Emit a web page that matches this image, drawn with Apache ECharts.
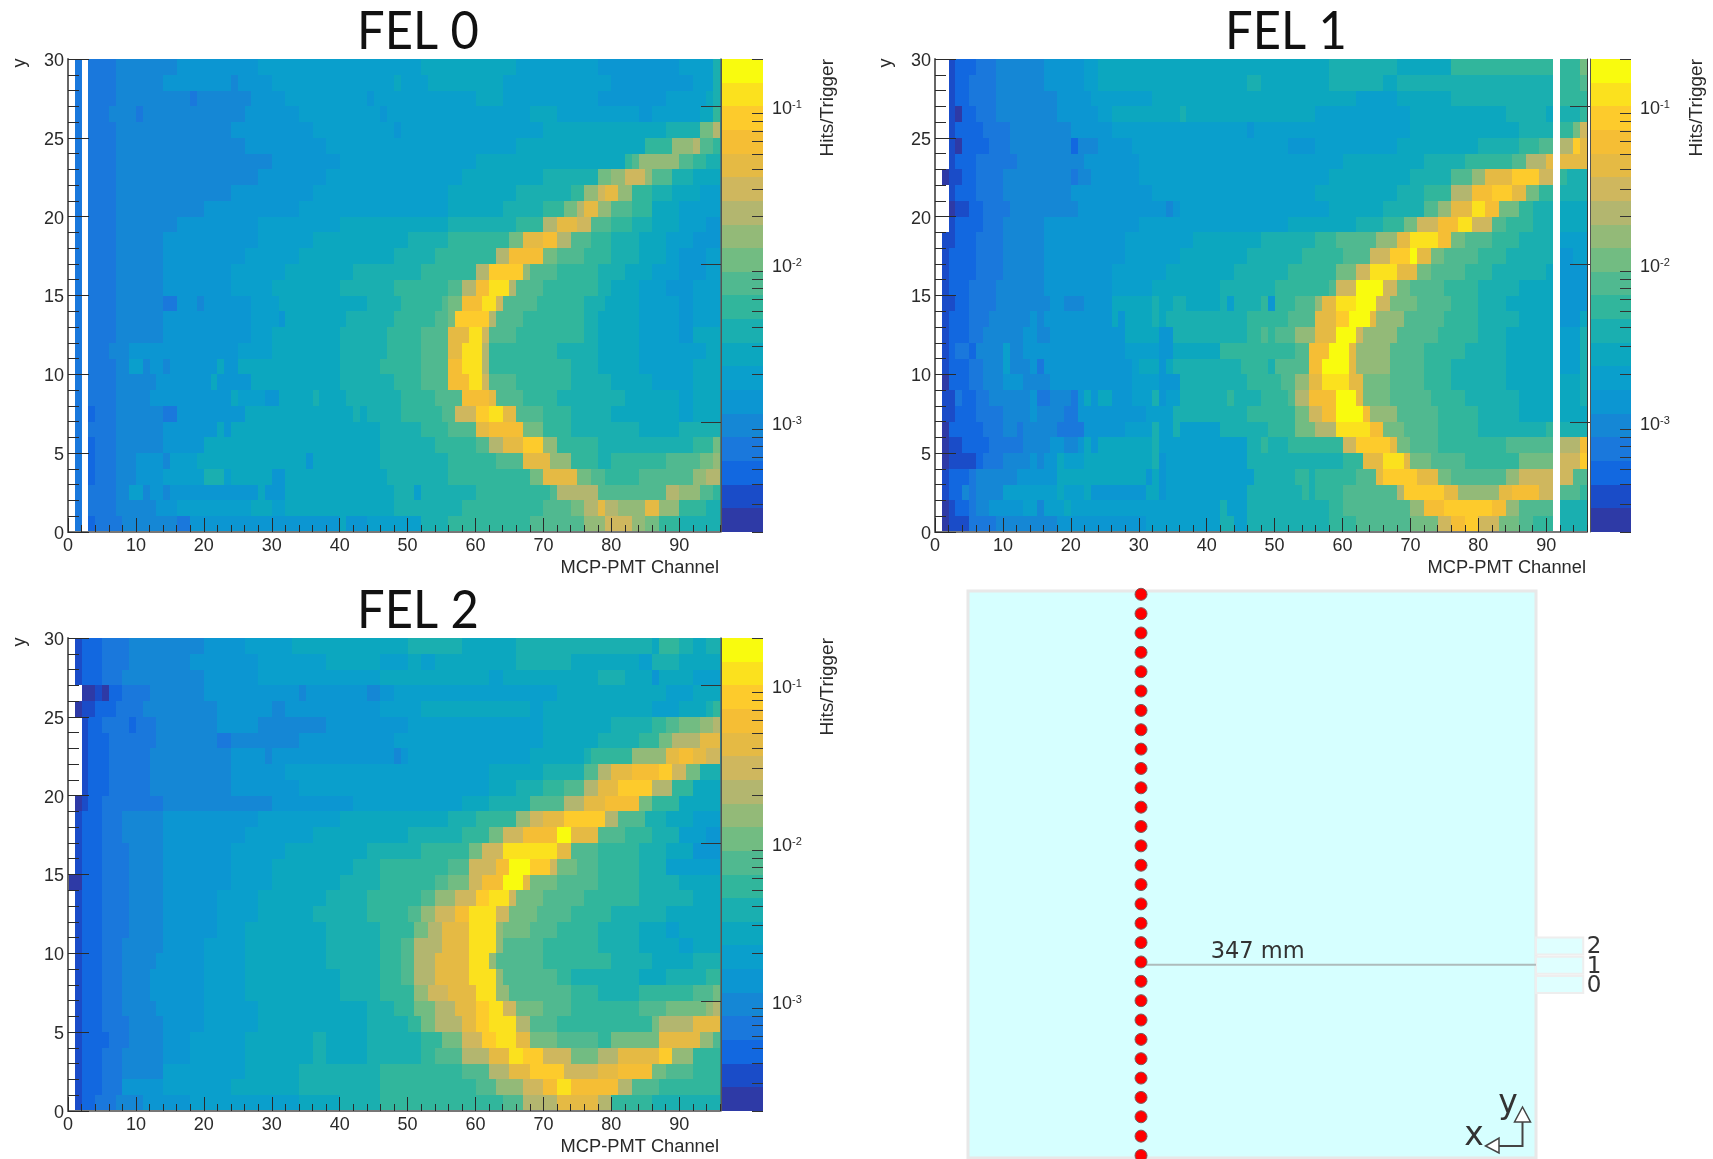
<!DOCTYPE html>
<html><head><meta charset="utf-8">
<style>html,body{margin:0;padding:0;background:#fff}#main{width:1713px;height:1159px;filter:blur(0.6px)}</style>
<script src="https://cdn.jsdelivr.net/npm/echarts@6/dist/echarts.min.js"></script>
</head><body><div id="main"></div>
<script>
// Colour bands of the z scale, bottom to top (20 equal log bands from 2e-4 to 0.2)
const bandColors = ['#2E3AA6','#1A4CC8','#1268E0','#1A78DC','#1587D5','#0C96D2','#0A9FCC','#0CA7BF','#1AAFB0','#31B69C','#50B990','#72BC82','#93BA78','#B3B66F','#CFB75E','#E5BA44','#F5BE35','#FDCB2C','#FBE11E','#F9FB0E'];
const zMin = 2e-4, zMax = 0.2;
const xTickLabels = [0,10,20,30,40,50,60,70,80,90];
const zMajorTicks = [1e-3,1e-2,1e-1];
const zMinorTicks = [2e-4,3e-4,4e-4,5e-4,6e-4,7e-4,8e-4,9e-4,2e-3,3e-3,4e-3,5e-3,6e-3,7e-3,8e-3,9e-3,2e-2,3e-2,4e-2,5e-2,6e-2,7e-2,8e-2,9e-2,0.2];
// Each row is y = 29 ... 0; token "band:endChannel", "-" = empty bin
const fel0Rows = [
"-:1 3:2 -:3 3:7 4:16 5:28 6:52 7:66 6:78 5:90 6:95 8:96",
"-:1 3:2 -:3 3:7 4:14 5:24 4:25 5:30 6:48 7:49 6:53 7:64 6:80 5:92 6:95 8:96",
"-:1 3:2 -:3 3:7 4:18 3:19 4:27 5:32 6:44 5:45 6:60 7:64 6:78 5:88 6:94 7:95 8:96",
"-:1 3:2 -:3 3:6 4:10 3:11 4:26 5:34 6:46 5:47 6:68 7:72 6:84 5:86 6:93 7:95 9:96",
"-:1 3:2 -:3 3:7 4:24 5:36 6:48 5:49 6:70 7:88 8:93 11:95 13:96",
"-:1 3:2 -:3 3:7 4:26 5:38 6:66 7:85 9:89 12:92 13:93 10:95 9:96",
"-:1 3:2 -:3 3:7 4:30 5:40 6:60 7:82 9:83 10:84 12:90 10:92 9:94 8:96",
"-:1 3:2 -:3 3:7 4:28 5:38 6:58 7:70 8:78 11:80 12:82 14:85 12:86 10:89 8:92 7:96",
"-:1 3:2 -:3 3:7 4:24 5:36 6:56 7:66 8:74 9:76 12:78 14:79 15:81 12:83 9:86 8:89 7:93 6:96",
"-:1 3:2 -:3 3:7 4:20 5:34 6:56 7:64 8:70 9:73 11:75 13:76 15:78 12:80 10:83 9:86 7:90 6:96",
"-:1 3:2 -:3 3:7 4:16 5:28 6:40 7:56 8:66 9:70 13:72 15:75 14:77 10:80 9:83 8:86 7:90 6:94 5:96",
"-:1 3:2 -:3 3:7 4:14 5:28 6:36 7:50 8:56 9:65 11:67 15:70 16:72 13:74 10:77 9:80 8:84 7:88 6:92 5:96",
"-:1 3:2 -:3 3:7 4:14 5:26 6:34 7:48 8:54 9:63 13:65 16:70 11:72 10:76 9:80 8:84 7:88 6:90 5:94 6:96",
"-:1 3:2 -:3 3:7 4:14 5:24 6:32 7:42 8:52 9:60 13:62 17:67 12:68 10:72 9:78 8:82 7:86 6:90 5:94 6:96",
"-:1 3:2 -:3 3:7 4:14 5:24 6:30 7:40 8:48 9:56 10:58 13:60 16:62 18:65 13:66 10:70 9:78 8:80 7:84 6:88 5:92 6:96",
"-:1 3:2 -:3 3:7 4:14 3:16 5:19 4:20 5:27 6:31 7:44 8:49 9:55 10:56 11:58 16:61 18:63 14:64 10:69 9:76 8:79 7:84 6:90 5:92 6:96",
"-:1 3:2 -:3 3:7 4:14 5:27 6:31 5:32 7:41 8:48 9:54 10:56 11:57 17:62 13:63 10:67 9:76 8:78 7:84 6:90 5:92 6:96",
"-:1 3:2 -:3 3:7 4:14 5:27 6:30 7:40 8:47 9:52 10:56 15:59 18:61 14:62 10:66 9:76 8:78 7:84 6:90 5:92 7:96",
"-:1 3:2 -:3 3:6 4:9 5:25 6:30 7:40 8:47 9:52 10:56 15:58 18:61 13:62 9:72 8:78 7:84 6:94 7:96",
"-:1 3:2 -:3 3:7 4:9 6:11 4:12 5:14 4:15 5:22 7:23 5:25 7:40 8:46 9:52 10:56 16:58 18:61 13:62 9:74 8:78 7:84 6:92 7:96",
"-:1 3:2 -:3 3:7 4:13 5:21 7:22 5:27 7:40 8:48 9:52 10:56 16:59 18:61 14:62 10:66 9:74 8:80 7:86 6:92 7:96",
"-:1 3:2 -:3 3:7 4:12 5:24 7:25 6:29 5:31 7:36 8:37 7:41 8:49 9:54 10:58 16:62 15:63 10:67 9:72 8:82 7:90 6:92 7:96",
"-:1 3:2 -:3 2:4 3:7 4:14 3:16 5:26 7:42 8:43 7:44 8:49 9:55 10:57 14:60 17:62 18:64 15:66 10:70 9:74 8:80 7:90 6:92 7:96",
"-:1 3:2 -:3 3:7 4:14 5:22 7:23 5:24 7:46 8:52 9:56 10:60 15:62 16:67 11:70 9:74 8:84 7:90 8:96",
"-:1 3:2 -:3 2:4 3:7 4:14 5:20 7:46 8:54 9:60 10:62 13:64 15:67 17:70 12:72 9:78 8:92 9:95 11:96",
"-:1 3:2 -:3 2:4 3:7 4:10 5:14 4:15 6:19 7:35 5:36 7:46 8:56 9:63 10:67 15:71 12:74 9:78 8:80 9:88 10:93 11:95 12:96",
"-:1 3:2 -:3 2:4 3:7 4:10 5:14 6:20 8:23 6:24 7:30 5:32 7:47 8:56 9:68 11:70 15:75 11:77 10:79 9:84 10:92 12:94 13:96",
"-:1 3:2 -:3 3:7 4:9 6:11 4:12 5:14 4:15 5:28 7:29 5:32 7:48 8:51 6:52 8:60 9:71 10:72 13:78 10:88 13:90 12:93 10:95 9:96",
"-:1 3:2 -:3 3:7 4:13 5:16 6:27 7:30 6:32 7:48 8:58 9:70 10:74 11:76 13:78 15:79 13:81 12:85 15:87 12:90 9:94 8:96",
"-:1 3:2 -:3 2:4 3:8 4:16 3:18 5:40 7:41 5:44 6:52 8:56 9:68 10:76 12:79 14:83 12:85 11:87 9:90 8:96"
];
const fel1Rows = [
"-:2 1:3 2:6 3:9 4:16 5:22 6:24 7:58 8:68 7:76 9:91 -:92 9:95 11:96",
"-:2 1:3 2:5 3:9 4:16 5:22 6:24 7:46 8:48 7:58 8:66 7:68 8:91 -:92 9:95 10:96",
"-:2 1:3 2:5 3:9 4:18 5:23 6:32 7:62 6:68 7:76 8:91 -:92 9:96",
"-:2 1:3 0:4 2:6 3:9 4:18 5:24 6:26 7:36 8:37 7:56 6:70 7:84 8:90 7:91 -:92 8:95 9:96",
"-:2 1:3 2:7 3:11 4:20 5:26 6:46 5:47 6:70 7:86 8:91 -:92 9:94 11:95 14:96",
"-:2 1:3 0:4 2:8 3:11 4:20 2:21 4:24 5:29 6:52 5:56 6:68 7:80 8:86 9:89 10:91 -:92 13:94 17:95 15:96",
"-:2 1:3 2:6 3:12 4:22 5:30 6:60 7:72 8:78 9:85 10:87 13:90 15:91 -:92 15:96",
"-:1 0:2 1:4 2:6 3:10 4:20 3:21 4:23 5:30 6:58 7:70 8:76 10:79 12:81 15:85 17:89 14:91 -:92 9:93 8:96",
"-:2 1:3 2:6 3:10 4:20 5:32 6:56 7:68 8:72 9:76 13:79 16:82 17:85 15:87 11:89 9:91 -:92 8:96",
"-:2 0:3 1:5 2:7 3:11 4:21 5:34 4:35 5:36 6:58 7:66 8:72 10:74 12:76 15:79 18:81 16:83 11:86 9:88 8:91 -:92 7:96",
"-:2 1:3 2:7 3:10 4:16 5:30 6:52 7:62 8:66 9:69 11:71 14:74 16:77 18:79 14:82 10:84 9:88 8:91 -:92 7:96",
"-:1 1:3 2:6 3:10 4:16 5:28 6:38 7:48 8:56 9:59 10:65 12:68 15:70 18:74 16:76 11:78 10:82 9:86 8:91 -:92 6:96",
"-:1 1:2 2:6 3:10 4:16 5:28 6:36 7:46 8:54 9:60 10:64 14:67 17:70 19:71 15:73 11:75 10:80 9:84 8:91 -:92 5:94 6:96",
"-:1 1:2 2:6 3:10 4:16 5:26 6:34 7:44 8:52 9:59 11:62 14:64 18:68 15:71 11:73 10:78 9:82 8:90 7:91 -:92 5:96",
"-:1 1:2 2:5 3:9 4:16 5:26 6:32 7:42 8:50 9:58 10:59 14:62 19:66 14:68 11:70 10:75 9:80 8:86 7:91 -:92 5:96",
"-:1 1:3 2:5 3:9 4:17 5:19 4:22 5:26 7:32 8:33 7:35 8:37 7:42 8:43 6:44 8:48 9:49 5:50 9:53 10:56 12:57 15:59 18:62 19:65 14:67 11:71 10:76 9:80 8:84 7:91 -:92 5:96",
"-:1 1:2 2:5 3:8 4:14 5:15 4:16 5:26 7:27 5:28 7:32 8:33 7:34 8:46 9:52 10:56 15:59 17:61 19:64 15:65 12:69 10:75 9:80 8:86 7:91 -:92 5:95 7:96",
"-:1 1:2 2:5 3:7 4:13 5:15 4:17 5:28 7:33 5:35 8:46 9:48 10:49 9:50 10:53 12:56 15:59 19:62 14:63 12:68 10:74 9:80 8:84 7:91 -:92 6:95 8:96",
"-:1 1:2 2:3 3:5 2:6 4:10 6:11 4:13 5:28 6:33 5:35 7:42 9:53 10:55 16:58 19:61 15:62 12:67 10:72 9:78 8:84 7:91 -:92 6:95 8:96",
"-:1 1:2 2:5 3:7 4:10 6:11 4:14 5:15 3:16 5:29 6:30 7:33 5:34 7:35 8:45 9:49 8:50 10:55 16:57 19:61 15:62 12:67 10:72 9:76 8:84 7:91 -:92 6:95 8:96",
"-:1 0:2 2:5 3:7 4:10 5:13 4:17 5:29 6:33 5:36 8:46 9:51 10:53 12:55 15:57 18:61 15:63 11:67 10:72 9:76 8:84 7:91 -:92 7:95 8:96",
"-:1 1:3 3:4 2:6 3:8 4:14 5:15 3:17 4:20 3:21 5:22 7:23 5:24 7:26 5:29 6:32 8:33 5:34 6:36 8:43 9:44 8:48 9:52 10:53 13:55 16:59 19:62 15:63 11:67 10:73 9:78 8:86 7:91 -:92 7:95 8:96",
"-:1 1:3 2:6 3:10 4:14 5:15 4:19 3:21 5:31 6:35 8:46 9:53 11:55 14:57 16:59 19:63 16:64 12:68 10:74 9:80 8:86 7:91 -:92 7:96",
"-:1 0:2 2:7 3:10 4:12 3:13 4:18 3:22 5:28 6:32 8:33 6:35 8:36 6:42 8:49 9:53 11:56 13:59 18:64 16:66 11:69 10:74 9:80 8:90 9:91 -:92 8:96",
"-:1 0:2 1:4 2:8 3:13 4:17 5:19 4:21 5:22 7:23 5:24 7:32 8:33 6:46 8:48 9:49 8:52 9:60 14:62 17:67 15:68 11:70 10:74 9:84 10:91 -:92 13:95 16:96",
"-:1 0:2 1:6 2:7 3:10 4:14 5:15 4:16 5:18 7:19 6:22 7:32 8:33 5:34 6:46 8:60 9:63 15:66 18:69 15:70 11:73 10:78 9:86 11:91 -:92 14:95 17:96",
"-:1 1:2 2:5 3:6 4:12 5:18 7:31 5:32 7:33 5:34 6:47 8:53 9:55 8:56 9:62 10:65 15:66 17:71 15:74 11:76 10:84 12:86 14:91 -:92 14:94 10:96",
"-:1 1:2 2:4 4:5 3:6 4:10 6:18 7:19 6:22 7:23 5:31 7:33 5:34 6:46 8:54 9:55 8:56 9:60 10:68 13:69 17:75 15:77 12:83 15:85 16:89 14:91 -:92 10:95 9:96",
"-:1 0:2 1:3 2:5 3:6 4:8 5:13 6:15 4:16 6:19 7:20 6:42 8:43 6:46 8:58 9:60 10:70 12:72 16:75 17:82 16:84 12:86 10:91 -:92 8:96",
"-:1 0:2 1:5 3:9 4:18 5:31 6:42 8:44 6:46 8:58 9:62 10:70 11:74 14:76 16:78 17:80 14:83 11:86 10:88 9:91 -:92 8:96"
];
const fel2Rows = [
"-:1 1:2 2:5 3:9 4:20 5:26 6:33 7:50 8:58 7:66 8:86 7:87 9:90 8:92 7:94 8:96",
"-:1 1:2 2:5 3:9 4:18 5:28 6:38 7:46 6:50 7:52 6:54 7:66 8:74 7:84 6:86 8:90 7:96",
"-:1 1:2 2:5 3:8 4:20 5:28 6:46 7:62 6:64 7:78 8:82 7:86 5:87 7:92 6:96",
"-:2 0:4 1:5 0:6 2:8 3:12 4:20 5:34 4:35 5:44 4:46 5:48 6:72 7:88 6:92 7:96",
"-:1 0:2 1:4 2:7 3:11 4:22 5:30 4:32 5:46 6:52 7:68 6:70 7:86 6:90 7:94 8:95 9:96",
"-:2 1:3 2:5 3:9 2:10 3:13 4:22 5:28 4:38 5:50 6:70 7:80 8:86 9:88 10:90 11:93 12:95 13:96",
"-:2 1:3 2:6 3:13 4:22 3:24 4:34 5:48 6:70 7:78 8:84 9:87 11:89 13:93 15:96",
"-:2 1:3 2:6 3:12 4:24 5:29 4:30 5:48 4:49 5:50 6:68 7:76 8:77 9:83 12:88 15:90 16:92 15:94 14:96",
"-:2 1:3 2:6 3:12 4:24 5:32 6:62 7:70 8:76 10:78 13:80 15:83 16:87 17:89 14:91 11:93 8:96",
"-:2 1:3 2:6 3:12 4:24 5:34 6:62 7:66 8:70 9:73 10:76 13:78 15:81 17:86 13:89 9:92 7:96",
"-:1 0:2 1:3 2:5 3:14 4:30 5:42 6:58 7:62 8:68 10:73 13:76 15:79 16:84 11:86 9:90 7:96",
"-:1 1:2 2:5 3:8 4:14 5:28 6:40 7:56 8:60 9:66 12:68 14:70 15:73 17:79 13:81 10:85 8:88 7:92 6:96",
"-:1 1:2 2:5 3:8 4:14 5:26 6:36 7:50 8:58 9:62 11:64 14:67 16:72 19:74 15:78 10:82 9:86 8:90 6:94 5:96",
"-:1 1:2 2:5 3:9 4:14 5:24 6:32 7:44 8:52 9:59 11:61 14:64 18:72 15:74 10:78 9:84 8:88 7:92 5:96",
"-:1 1:2 2:5 3:9 4:14 5:24 6:30 7:42 8:46 9:56 10:59 14:63 16:65 19:68 17:71 14:72 11:75 10:78 9:84 8:88 6:96",
"0:2 2:5 3:9 4:14 5:24 6:30 7:40 8:46 9:54 10:56 11:59 14:61 16:64 19:67 15:68 11:72 10:78 9:84 8:90 7:96",
"-:1 1:2 2:5 3:9 4:14 5:22 6:28 7:38 8:44 9:52 10:54 12:57 14:60 17:62 18:65 14:66 11:70 10:76 9:84 8:92 7:96",
"-:1 1:2 2:5 3:9 4:14 5:22 6:28 7:36 8:44 9:50 10:52 12:54 14:57 16:59 18:63 14:65 11:69 10:74 9:80 8:88 7:96",
"-:1 1:2 2:5 3:9 4:14 5:22 6:26 7:38 8:46 9:51 11:53 13:55 15:59 18:63 12:64 11:68 10:72 9:78 8:84 7:88 6:90 7:96",
"-:1 1:2 2:5 3:8 4:14 5:20 6:26 7:38 8:46 9:49 10:51 13:55 15:59 18:63 12:64 10:70 9:78 8:84 7:90 6:92 7:96",
"-:1 1:2 2:5 3:8 4:13 5:20 6:26 7:38 8:46 9:49 10:51 13:54 15:59 18:62 12:63 10:70 9:80 8:86 7:92 8:96",
"-:1 1:2 2:5 3:8 4:12 5:20 6:26 7:40 8:46 9:49 10:51 13:54 15:59 18:63 12:64 10:72 9:74 8:84 7:88 8:94 9:96",
"-:1 1:2 2:5 3:8 4:12 5:20 6:26 7:40 8:46 9:51 12:53 14:56 15:60 18:63 12:65 10:74 9:78 8:84 9:92 10:95 11:96",
"-:1 1:2 2:5 3:8 4:13 5:20 6:28 7:44 8:48 9:51 11:54 13:57 15:60 17:62 18:64 14:66 11:70 10:74 9:84 10:88 11:94 12:95 13:96",
"-:1 1:2 2:5 3:9 4:14 5:20 6:28 7:44 8:50 9:52 11:54 13:58 15:60 17:62 18:66 13:68 10:72 9:86 11:87 13:92 15:96",
"-:1 1:2 2:6 3:9 4:14 5:18 6:26 7:36 8:38 7:44 8:52 9:55 11:58 14:61 17:63 18:66 15:68 11:72 10:78 9:80 11:87 15:93 12:95 10:96",
"-:1 1:2 2:5 3:8 4:14 5:18 6:26 7:36 8:38 7:44 8:52 9:54 10:58 13:62 15:65 18:67 17:70 14:74 11:78 13:81 15:87 17:89 12:92 9:96",
"-:1 1:2 2:5 3:8 4:14 6:26 7:34 8:46 9:58 10:62 13:65 15:68 17:73 14:78 15:81 16:86 11:88 10:92 9:96",
"-:1 1:2 2:5 3:8 5:14 6:24 7:34 8:46 9:60 10:63 12:67 14:70 16:72 18:74 16:81 13:83 10:87 9:96",
"-:1 1:2 2:4 3:7 4:11 5:18 6:34 7:40 8:46 9:64 10:67 13:72 15:78 13:80 9:86 8:96"
];
// Sketch of the setup: sensor row positions and the three front-end strips
const dotIndex = [0,1,2,3,4,5,6,7,8,9,10,11,12,13,14,15,16,17,18,19,20,21,22,23,24,25,26,27,28,29];
const distanceLine = [[0,9.85],[347,9.85]];
const felStrips = [['0',8.83],['1',9.83],['2',10.83]];

const INK = '#2a2a2a', SANS = '"Liberation Sans",Arial,sans-serif', DJ = '"DejaVu Sans",sans-serif';
function cells(rows){
  const out = [];
  rows.forEach((row,i)=>{
    let x = 0;
    row.split(' ').forEach(tok=>{
      const [b,end] = tok.split(':');
      for(; x < +end; x++) if(b !== '-') out.push([x, 29-i, +b]);
    });
  });
  return out;
}
function box(a,b,fill){
  const x0=Math.round(a[0]),y0=Math.round(a[1]),x1=Math.round(b[0]),y1=Math.round(b[1]);
  return {type:'rect',shape:{x:x0,y:y0,width:x1-x0,height:y1-y0},style:{fill}};
}
const grid=[], xAxis=[], yAxis=[], series=[], graphic=[];
const bare = {axisLine:{show:false},axisTick:{show:false},axisLabel:{show:false},splitLine:{show:false}};
function panel(name, rows, left, top, rightLine, barLeft, barWidth, titleX, yLabelX, zLabelX){
  const g = grid.length; grid.push({left,top,width:652,height:473});
  const xi = xAxis.length, yi = yAxis.length;
  xAxis.push({gridIndex:g,type:'value',position:'bottom',min:0,max:96,z:5,
    axisLine:{lineStyle:{color:'#777',width:2}},
    axisTick:{inside:true,length:14,customValues:xTickLabels,lineStyle:{color:INK}},
    axisLabel:{customValues:xTickLabels,fontSize:18,fontFamily:SANS,color:INK,margin:5},splitLine:{show:false}});
  xAxis.push({gridIndex:g,type:'value',position:'bottom',min:0,max:96,interval:2,z:5,
    axisLine:{show:false},axisTick:{inside:true,length:7,lineStyle:{color:INK}},axisLabel:{show:false},splitLine:{show:false}});
  yAxis.push({gridIndex:g,type:'value',position:'left',min:0,max:30,interval:5,z:5,
    axisLine:{show:true,lineStyle:{color:'#666',width:2}},
    axisTick:{show:true,inside:true,length:21,lineStyle:{color:INK}},
    axisLabel:{fontSize:18,fontFamily:SANS,color:INK,margin:4,padding:[4,0,0,0],
      formatter:v=>'{n|'+v+'}',rich:{n:{fontSize:18,fontFamily:SANS,color:INK}}},splitLine:{show:false}});
  yAxis.push({gridIndex:g,type:'value',position:'left',min:0,max:30,interval:1,z:5,
    axisLine:{show:false},axisTick:{show:true,inside:true,length:11,lineStyle:{color:INK}},axisLabel:{show:false},splitLine:{show:false}});
  yAxis.push({gridIndex:g,type:'value',position:'right',min:0,max:30,z:5,
    axisLine:{show:true,lineStyle:{color:rightLine,width:1}},axisTick:{show:false},axisLabel:{show:false},splitLine:{show:false}});
  series.push({type:'custom',name,xAxisIndex:xi,yAxisIndex:yi,coordinateSystem:'cartesian2d',z:1,
    data:cells(rows),silent:true,progressive:0,clip:true,
    renderItem:(p,api)=>box(api.coord([api.value(0),api.value(1)+1]),api.coord([api.value(0)+1,api.value(1)]),bandColors[api.value(2)])});
  // colour scale
  const cg = grid.length; grid.push({left:barLeft,top,width:barWidth,height:473});
  const cx = xAxis.length, cy = yAxis.length, lo = Math.log10(zMin), hi = Math.log10(zMax);
  xAxis.push(Object.assign({gridIndex:cg,type:'value',min:0,max:1},bare));
  yAxis.push({gridIndex:cg,type:'value',position:'right',min:lo,max:hi,z:5,
    axisLine:{show:true,lineStyle:{color:'#555',width:1}},
    axisTick:{inside:true,length:20,customValues:zMajorTicks.map(Math.log10),lineStyle:{color:'#333',width:1}},
    axisLabel:{customValues:zMajorTicks.map(Math.log10),margin:9,fontSize:18,fontFamily:SANS,color:INK,padding:[6,0,0,0],
      formatter:v=>'10{s|'+Math.round(v)+'}',
      rich:{s:{fontSize:11,fontFamily:SANS,color:INK,verticalAlign:'top',padding:[0,0,8,0]}}},
    splitLine:{show:false}});
  yAxis.push({gridIndex:cg,type:'value',position:'right',min:lo,max:hi,z:5,
    axisLine:{show:false},axisTick:{inside:true,length:11,customValues:zMinorTicks.map(Math.log10),lineStyle:{color:'#333',width:1}},
    axisLabel:{show:false},splitLine:{show:false}});
  const step = (hi-lo)/bandColors.length;
  series.push({type:'custom',name:name+' scale',xAxisIndex:cx,yAxisIndex:cy,coordinateSystem:'cartesian2d',z:1,silent:true,
    data:bandColors.map((c,i)=>[i]),
    renderItem:(p,api)=>{const i=api.value(0);return box(api.coord([0,lo+(i+1)*step]),api.coord([1,lo+i*step]),bandColors[i]);}});
  graphic.push({type:'text',x:titleX,y:top-26.5,scaleX:0.94,z:10,silent:true,
    style:{text:name,fontSize:52,fontFamily:'Lato,sans-serif',fontWeight:'normal',fill:'#111',align:'center',verticalAlign:'middle'}});
  const txt=(t,x,y,rot,align,size)=>graphic.push({type:'text',x,y,rotation:rot,z:10,silent:true,
    style:{text:t,fontSize:size,fontFamily:SANS,fill:INK,align,verticalAlign:'middle'}});
  txt('MCP-PMT Channel',left+651,top+509,0,'right',18.3);
  txt('y',yLabelX,top+4,Math.PI/2,'center',18);
  txt('Hits/Trigger',zLabelX,top,Math.PI/2,'right',19);
}
panel('FEL 0',fel0Rows,68,59,'#3a7f82',721,42,418,20,828);
panel('FEL 1',fel1Rows,935,59,'#333333',1590,41,1286,886,1697);
panel('FEL 2',fel2Rows,68,638,'#3a7f82',721,42,418,20,828);

// bottom-right sketch, positions in mm (x) and row index (y)
const sg = grid.length;
grid.push({left:968,top:591,width:568,height:567,show:true,backgroundColor:'#D6FFFF',borderColor:'#E8E8E8',borderWidth:3});
const sx = xAxis.length, sy = yAxis.length;
xAxis.push(Object.assign({gridIndex:sg,type:'value',min:-152,max:347},bare));
yAxis.push(Object.assign({gridIndex:sg,type:'value',min:-0.13,max:29.17},bare));
series.push({type:'line',xAxisIndex:sx,yAxisIndex:sy,data:distanceLine,symbol:'none',z:2,silent:true,
  lineStyle:{color:'#AEBBBB',width:2}});
series.push({type:'scatter',xAxisIndex:sx,yAxisIndex:sy,data:dotIndex.map(i=>[0,i]),symbol:'circle',symbolSize:12,z:3,silent:true,clip:false,
  itemStyle:{color:'#FF0000',borderColor:'#7D5A5A',borderWidth:1,opacity:1}});
series.push({type:'custom',xAxisIndex:sx,yAxisIndex:sy,coordinateSystem:'cartesian2d',z:2,silent:true,clip:false,
  data:felStrips.map(f=>[f[1]]),
  renderItem:(p,api)=>{
    const f=felStrips[p.dataIndex], yc=f[1];
    const a=api.coord([347,yc+0.44]), b=api.coord([388.5,yc-0.44]), t=api.coord([398,yc-0.08]);
    return {type:'group',children:[
      {type:'rect',shape:{x:a[0],y:a[1],width:b[0]-a[0],height:b[1]-a[1]},style:{fill:'#DFFFFF',stroke:'#EEEEEE',lineWidth:2}},
      {type:'text',x:t[0],y:t[1],style:{text:f[0],fontSize:23,fontFamily:DJ,fill:'#333',align:'center',verticalAlign:'middle'}}
    ]};
  }});
series.push({type:'custom',xAxisIndex:sx,yAxisIndex:sy,coordinateSystem:'cartesian2d',z:4,silent:true,clip:false,
  data:[[102.5,10.5]],
  renderItem:(p,api)=>{
    const t=api.coord([api.value(0),api.value(1)]);
    return {type:'text',x:t[0],y:t[1],style:{text:'347 mm',fontSize:22.5,fontFamily:DJ,fill:'#333',align:'center',verticalAlign:'middle'}};
  }});
// x / y orientation key
const key='#444';
graphic.push({type:'polyline',z:10,silent:true,shape:{points:[[1499,1146],[1522.5,1146],[1522.5,1122]]},style:{stroke:key,lineWidth:2,fill:null}});
graphic.push({type:'polygon',z:10,silent:true,shape:{points:[[1522.5,1107],[1514.5,1122],[1530.5,1122]]},style:{stroke:key,lineWidth:1.5,fill:'#fff'}});
graphic.push({type:'polygon',z:10,silent:true,shape:{points:[[1485.5,1146],[1499,1138],[1499,1153]]},style:{stroke:key,lineWidth:1.5,fill:'#fff'}});
graphic.push({type:'text',x:1508,y:1104,z:10,silent:true,style:{text:'y',fontSize:33,fontFamily:DJ,fill:'#333',align:'center',verticalAlign:'middle'}});
graphic.push({type:'text',x:1474,y:1136,z:10,silent:true,style:{text:'x',fontSize:33,fontFamily:DJ,fill:'#333',align:'center',verticalAlign:'middle'}});

const chart = echarts.init(document.getElementById('main'),null,{renderer:'canvas'});
chart.setOption({animation:false,backgroundColor:'#fff',grid,xAxis,yAxis,series,graphic,tooltip:{show:false}});
</script></body></html>
